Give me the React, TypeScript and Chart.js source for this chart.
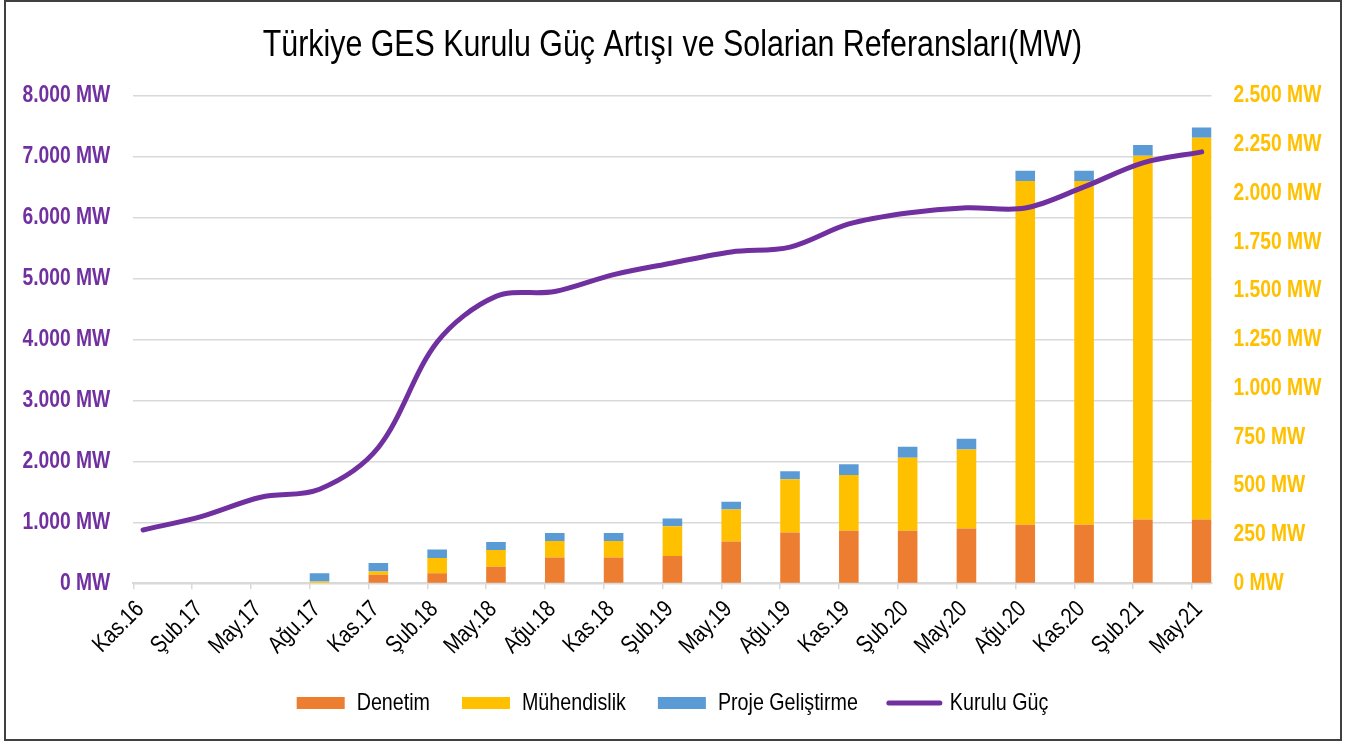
import React, { useEffect, useRef } from 'react';
import { Chart, registerables } from 'chart.js';

Chart.register(...registerables);

const categories = ['Kas.16', 'Şub.17', 'May.17', 'Ağu.17', 'Kas.17', 'Şub.18', 'May.18', 'Ağu.18', 'Kas.18', 'Şub.19', 'May.19', 'Ağu.19', 'Kas.19', 'Şub.20', 'May.20', 'Ağu.20', 'Kas.20', 'Şub.21', 'May.21'];
const denetim = [0, 0, 0, 0, 44, 51, 85, 132, 132, 140, 214, 260, 270, 270, 281, 301, 301, 327, 327];
const muhendislik = [0, 0, 0, 9, 17, 79, 86, 85, 85, 153, 164, 274, 286, 374, 405, 1763, 1763, 1867, 1959];
const projeGelistirme = [0, 0, 0, 42, 43, 44, 41, 41, 41, 39, 40, 41, 55, 56, 55, 53, 53, 54, 53];
const kuruluGuc = [876, 1100, 1413, 1545, 2230, 3960, 4710, 4790, 5067, 5259, 5440, 5520, 5900, 6080, 6165, 6160, 6508, 6902, 7083];
const leftTickLabels = ['0 MW', '1.000 MW', '2.000 MW', '3.000 MW', '4.000 MW', '5.000 MW', '6.000 MW', '7.000 MW', '8.000 MW'];
const rightTickLabels = ['0 MW', '250 MW', '500 MW', '750 MW', '1.000 MW', '1.250 MW', '1.500 MW', '1.750 MW', '2.000 MW', '2.250 MW', '2.500 MW'];

const FONT = "'Liberation Sans', Arial, sans-serif";
const NARROW_SCALE = 0.82;
const ORANGE = '#ED7D31';
const YELLOW = '#FFC000';
const BLUE = '#5B9BD5';
const PURPLE = '#7030A0';
const GRID = '#d9d9d9';

// Emulate a narrow typeface (Arial Narrow ≈ Arial compressed horizontally)
function narrowContext(ctx: any) {
  if (ctx.__narrow) return;
  ctx.__narrow = true;
  const origFill = ctx.fillText.bind(ctx);
  const origMeasure = ctx.measureText.bind(ctx);
  ctx.fillText = (text: string, x: number, y: number, maxWidth?: number) => {
    ctx.save();
    ctx.translate(x, y);
    ctx.scale(NARROW_SCALE, 1);
    if (maxWidth !== undefined && maxWidth !== null) origFill(text, 0, 0, maxWidth / NARROW_SCALE);
    else origFill(text, 0, 0);
    ctx.restore();
  };
  ctx.measureText = (text: string) => {
    const m = origMeasure(text);
    return {
      width: m.width * NARROW_SCALE,
      actualBoundingBoxAscent: m.actualBoundingBoxAscent,
      actualBoundingBoxDescent: m.actualBoundingBoxDescent,
      actualBoundingBoxLeft: m.actualBoundingBoxLeft * NARROW_SCALE,
      actualBoundingBoxRight: m.actualBoundingBoxRight * NARROW_SCALE,
      fontBoundingBoxAscent: m.fontBoundingBoxAscent,
      fontBoundingBoxDescent: m.fontBoundingBoxDescent,
    };
  };
}

const lineLegendPlugin = {
  id: 'lineLegend',
  afterDraw(chart: any) {
    const legend = chart.legend;
    if (!legend || !legend.legendHitBoxes) return;
    const items = legend.legendItems || [];
    const ctx = chart.ctx;
    items.forEach((item: any, i: number) => {
      if (item.datasetIndex !== 3) return;
      const hb = legend.legendHitBoxes[i];
      const y = hb.top + hb.height / 2;
      ctx.save();
      ctx.strokeStyle = PURPLE;
      ctx.lineWidth = 5;
      ctx.lineCap = 'round';
      ctx.beginPath();
      ctx.moveTo(hb.left - 1, y);
      ctx.lineTo(hb.left + 50, y);
      ctx.stroke();
      ctx.restore();
    });
  },
};

export default function App() {
  const ref = useRef<HTMLCanvasElement>(null);

  useEffect(() => {
    const canvas = ref.current;
    if (!canvas) return;
    narrowContext(canvas.getContext('2d'));
    const barCommon = { yAxisID: 'y2', stack: 'ref', barThickness: 19.6, borderWidth: 0, inflateAmount: 0 };
    const chart = new Chart(canvas, {
      type: 'bar',
      data: {
        labels: categories.map((_, i) => i),
        datasets: [
          { type: 'bar', label: 'Denetim', data: denetim, backgroundColor: ORANGE, ...barCommon },
          { type: 'bar', label: 'Mühendislik', data: muhendislik, backgroundColor: YELLOW, ...barCommon },
          { type: 'bar', label: 'Proje Geliştirme', data: projeGelistirme, backgroundColor: BLUE, ...barCommon },
          {
            type: 'line', label: 'Kurulu Güç', data: kuruluGuc, borderColor: PURPLE, backgroundColor: PURPLE,
            yAxisID: 'y', borderWidth: 5, pointRadius: 0, tension: 0.33, borderCapStyle: 'round', borderJoinStyle: 'round', order: -1,
          },
        ] as any,
      },
      options: {
        responsive: false,
        animation: false,
        devicePixelRatio: 1,
        layout: { padding: { left: 0, right: 8, top: 0, bottom: 17 } },
        plugins: {
          title: {
            display: true,
            text: 'Türkiye GES Kurulu Güç Artışı ve Solarian Referansları(MW)',
            color: '#000000',
            font: { family: FONT, size: 37, weight: 'normal' },
            padding: { top: 23.4, bottom: 28.2 },
          },
          legend: {
            position: 'bottom',
            labels: {
              font: { family: FONT, size: 24 },
              color: '#000000',
              boxWidth: 48,
              boxHeight: 12,
              padding: 32,
              sort: (a: any, b: any) => a.datasetIndex - b.datasetIndex,
              generateLabels: (c: any) => {
                const base = Chart.defaults.plugins.legend.labels.generateLabels(c);
                return base.map((it: any) => {
                  if (it.datasetIndex === 3) {
                    return { ...it, fillStyle: 'rgba(0,0,0,0)', strokeStyle: 'rgba(0,0,0,0)', lineWidth: 0 };
                  }
                  return { ...it, lineWidth: 0 };
                });
              },
            },
          },
          tooltip: { enabled: false },
        },
        scales: {
          x: {
            type: 'linear',
            min: -1 / 6,
            max: 18 + 1 / 6,
            offset: false,
            stacked: true,
            afterBuildTicks: (scale: any) => {
              scale.ticks = categories.map((_, i) => ({ value: i - 1 / 6 }));
            },
            afterFit: (scale: any) => {
              scale.height = 75.7;
            },
            ticks: {
              autoSkip: false,
              minRotation: 45,
              maxRotation: 45,
              labelOffset: 7,
              padding: 6,
              color: '#000000',
              font: { family: FONT, size: 24 },
              callback: (_v: any, index: number) => categories[index],
            },
            grid: { offset: false, drawOnChartArea: false, drawTicks: true, tickLength: 6, color: GRID, lineWidth: 1.5 },
            border: { display: true, color: GRID, width: 2 },
          },
          y: {
            type: 'linear',
            position: 'left',
            min: 0,
            max: 8000,
            afterFit: (scale: any) => {
              scale.width = 133.3;
            },
            ticks: {
              stepSize: 1000,
              padding: 23,
              color: PURPLE,
              font: { family: FONT, size: 23.5, weight: 'bold' },
              callback: (_v: any, index: number) => leftTickLabels[index],
            },
            grid: { color: GRID, lineWidth: 1.5, drawTicks: false },
            border: { display: false },
          },
          y2: {
            type: 'linear',
            position: 'right',
            min: 0,
            max: 2500,
            stacked: true,
            afterFit: (scale: any) => {
              scale.width = 133.5;
            },
            ticks: {
              stepSize: 250,
              padding: 22,
              color: YELLOW,
              font: { family: FONT, size: 23.5, weight: 'bold' },
              callback: (_v: any, index: number) => rightTickLabels[index],
            },
            grid: { drawOnChartArea: false, drawTicks: false },
            border: { display: false },
          },
        },
      } as any,
      plugins: [lineLegendPlugin],
    });
    return () => chart.destroy();
  }, []);

  return (
    <div style={{ position: 'fixed', left: 0, top: 0, width: 1353, height: 742, background: '#ffffff' }}>
      <canvas ref={ref} width={1353} height={742} style={{ position: 'absolute', left: 0, top: 0, width: 1353, height: 742 }} />
      <div style={{ position: 'absolute', left: 4, top: 0, width: 1338, height: 741, border: '2px solid #404040', boxSizing: 'border-box', pointerEvents: 'none' }} />
    </div>
  );
}
